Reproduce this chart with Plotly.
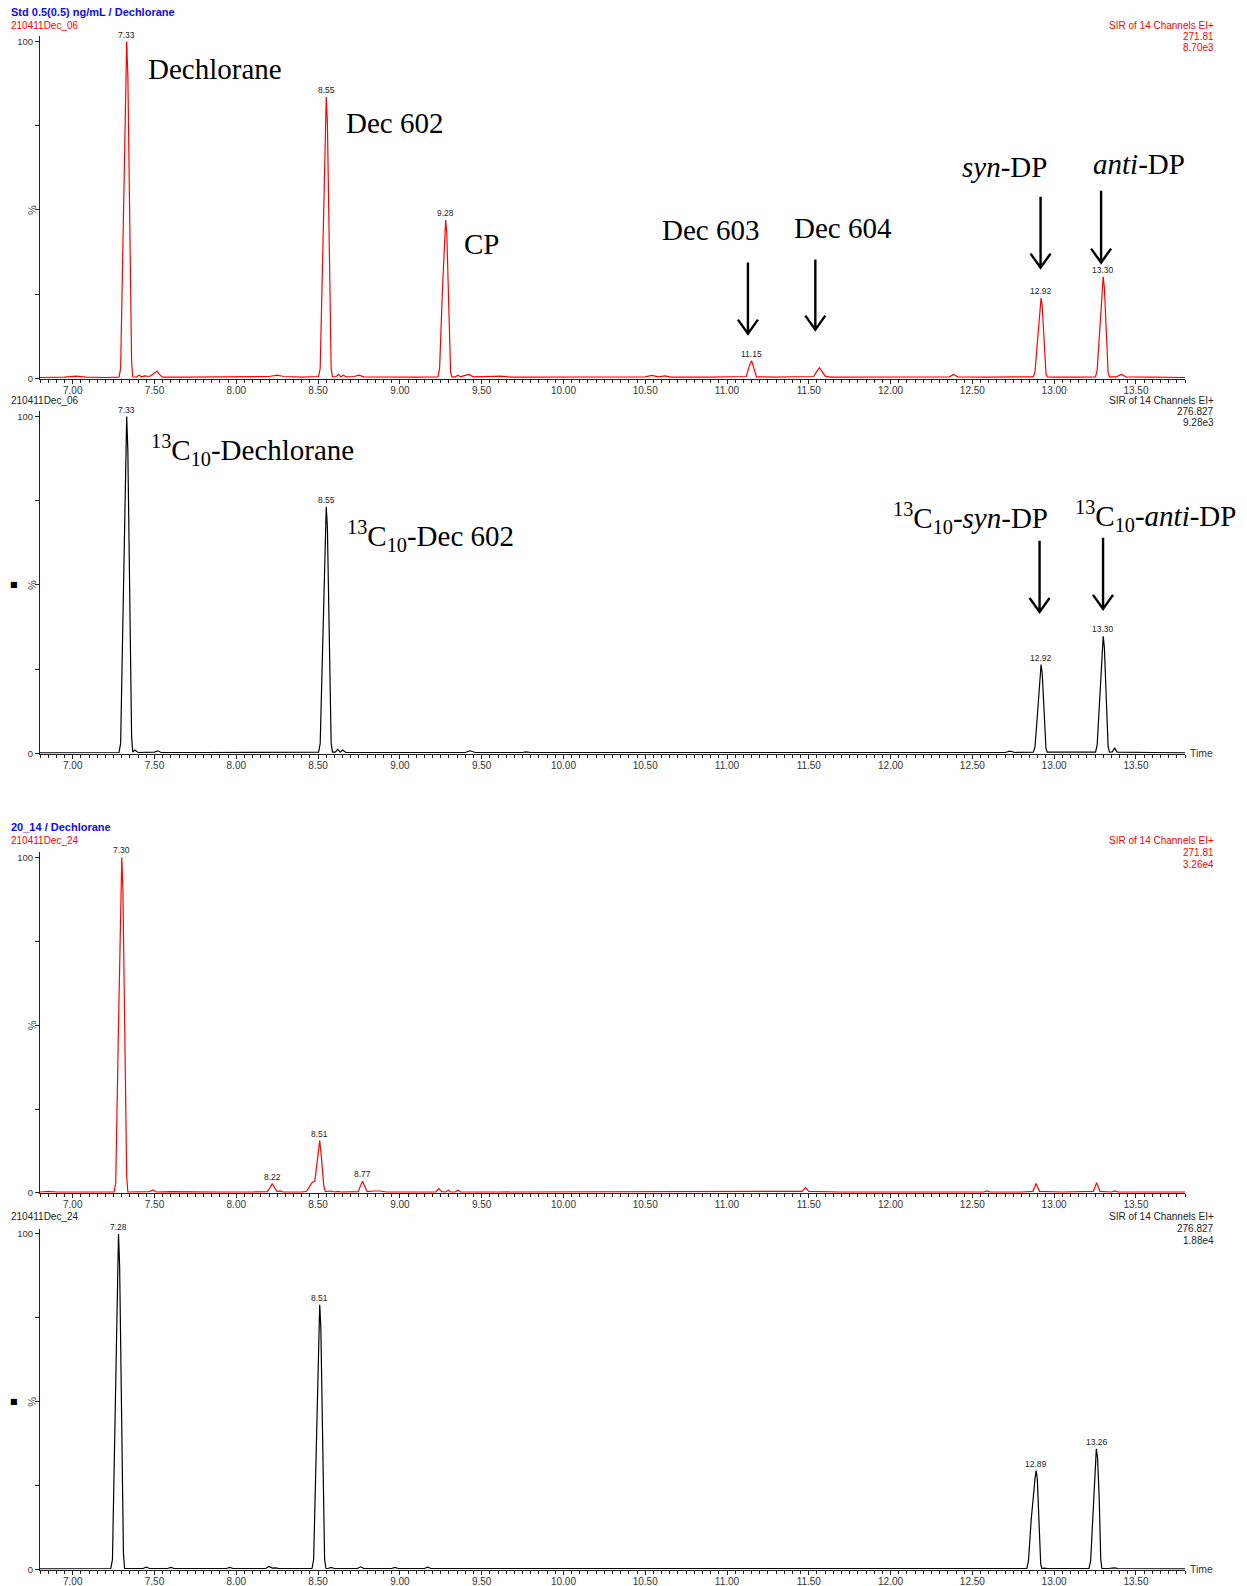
import plotly.graph_objects as go

W, H = 1247, 1586
RED = "#ff0000"
BLACK = "#000000"
BLUE = "#0a0aee"

# ---------------- data: (retention time [min], relative intensity [%]) ----------------
p1_points = [
    (6.80, 0.3), (6.95, 0.4), (7.02, 0.7), (7.08, 0.4), (7.20, 0.3),
    (7.283, 0.4), (7.293, 3), (7.31, 50), (7.323, 90), (7.33, 100), (7.337, 90), (7.35, 40), (7.36, 5), (7.367, 0.5),
    (7.39, 0.4), (7.405, 1.0), (7.42, 0.5), (7.44, 0.8), (7.47, 0.6), (7.50, 1.6), (7.515, 2.2), (7.53, 1.2),
    (7.55, 0.4), (7.70, 0.4), (7.90, 0.5), (8.05, 0.4), (8.20, 0.6), (8.25, 1.0), (8.29, 0.6), (8.40, 0.4),
    (8.503, 0.6), (8.513, 3), (8.53, 42), (8.543, 76), (8.55, 83.5), (8.557, 76), (8.57, 35), (8.58, 3), (8.588, 0.5),
    (8.61, 0.6), (8.625, 1.2), (8.64, 0.5), (8.655, 1.0), (8.67, 0.5), (8.72, 0.6), (8.75, 1.0), (8.78, 0.5),
    (8.90, 0.4), (9.10, 0.4),
    (9.233, 0.5), (9.243, 3), (9.26, 26), (9.273, 43), (9.28, 47), (9.287, 43), (9.30, 19), (9.31, 2), (9.318, 0.5),
    (9.34, 0.5), (9.355, 1.0), (9.37, 0.5), (9.39, 0.8), (9.42, 1.2), (9.45, 0.5), (9.55, 0.5), (9.62, 0.7),
    (9.68, 0.4), (9.90, 0.4), (10.20, 0.4), (10.50, 0.5), (10.54, 0.9), (10.58, 0.5), (10.62, 0.8), (10.66, 0.4),
    (10.90, 0.4), (11.05, 0.4),
    (11.118, 0.6), (11.135, 3.5), (11.15, 5.3), (11.165, 3), (11.18, 0.5),
    (11.30, 0.4), (11.45, 0.5), (11.53, 0.6), (11.55, 2.2), (11.565, 3.2), (11.58, 2.2), (11.60, 0.7), (11.63, 0.4),
    (11.80, 0.4), (12.00, 0.5), (12.20, 0.4), (12.36, 0.5), (12.385, 1.2), (12.41, 0.5), (12.60, 0.4), (12.75, 0.5),
    (12.873, 0.5), (12.883, 2), (12.90, 12), (12.913, 21.5), (12.92, 23.9), (12.927, 21.5), (12.94, 10), (12.95, 1.5), (12.958, 0.5),
    (13.00, 0.4), (13.15, 0.4),
    (13.253, 0.5), (13.263, 2.5), (13.28, 15), (13.293, 27), (13.30, 30.2), (13.307, 27), (13.32, 12), (13.33, 1.8), (13.338, 0.5),
    (13.38, 0.5), (13.41, 1.2), (13.44, 0.5), (13.60, 0.4), (13.80, 0.3),
]

p2_points = [
    (6.80, 0.2), (7.00, 0.3),
    (7.283, 0.3), (7.293, 3), (7.31, 50), (7.323, 90), (7.33, 100), (7.337, 90), (7.35, 40), (7.36, 5), (7.367, 0.4),
    (7.38, 1.0), (7.40, 0.3), (7.50, 0.4), (7.52, 0.8), (7.54, 0.3), (7.80, 0.3), (8.20, 0.3), (8.25, 0.5), (8.30, 0.3),
    (8.503, 0.4), (8.513, 3), (8.53, 37), (8.543, 67), (8.55, 73.2), (8.557, 67), (8.57, 31), (8.58, 3), (8.588, 0.4),
    (8.605, 0.4), (8.62, 1.2), (8.635, 0.4), (8.65, 1.0), (8.67, 0.3), (9.00, 0.3), (9.40, 0.3), (9.43, 0.8), (9.46, 0.3),
    (9.75, 0.3), (9.77, 0.5), (9.80, 0.3), (10.50, 0.3), (11.50, 0.3), (12.00, 0.3), (12.70, 0.3), (12.73, 0.7), (12.76, 0.3),
    (12.873, 0.4), (12.883, 2), (12.90, 13), (12.913, 23.8), (12.92, 26.4), (12.927, 23.8), (12.94, 11), (12.95, 1.5), (12.958, 0.4),
    (13.253, 0.4), (13.263, 2.5), (13.28, 17), (13.293, 31.5), (13.30, 34.8), (13.307, 31.5), (13.32, 14), (13.33, 2), (13.338, 0.4),
    (13.355, 0.5), (13.37, 1.6), (13.385, 0.4), (13.60, 0.3), (13.80, 0.2),
]

p3_points = [
    (6.80, 0.3), (6.85, 0.5), (6.90, 0.3), (7.05, 0.4), (7.15, 0.3),
    (7.253, 0.3), (7.263, 3), (7.28, 50), (7.293, 90), (7.30, 100), (7.307, 90), (7.32, 40), (7.33, 5), (7.337, 0.3),
    (7.40, 0.3), (7.47, 0.4), (7.49, 0.9), (7.51, 0.3), (7.60, 0.4), (7.70, 0.3), (7.90, 0.3), (8.10, 0.3),
    (8.19, 0.4), (8.205, 1.5), (8.22, 2.8), (8.235, 1.5), (8.25, 0.4), (8.27, 0.6), (8.285, 0.3), (8.40, 0.3),
    (8.43, 0.5), (8.455, 2.5), (8.465, 3.2), (8.48, 3.5), (8.495, 10), (8.51, 15.6), (8.52, 11), (8.535, 2), (8.545, 0.4),
    (8.58, 0.6), (8.60, 0.3), (8.62, 0.5), (8.64, 0.3),
    (8.745, 0.4), (8.76, 2.2), (8.772, 3.5), (8.785, 2), (8.80, 0.4), (8.84, 0.6), (8.88, 0.6), (8.92, 0.3),
    (9.00, 0.3), (9.10, 0.5), (9.15, 0.3),
    (9.22, 0.3), (9.238, 1.3), (9.255, 0.4), (9.28, 0.3), (9.297, 0.8), (9.31, 0.3), (9.338, 0.3), (9.354, 0.8), (9.37, 0.3),
    (9.60, 0.3), (10.00, 0.3), (10.50, 0.3), (11.00, 0.3), (11.40, 0.3),
    (11.46, 0.5), (11.48, 1.6), (11.50, 0.5), (11.70, 0.3), (12.00, 0.3), (12.30, 0.3),
    (12.57, 0.3), (12.59, 0.6), (12.61, 0.3), (12.80, 0.3),
    (12.87, 0.5), (12.89, 2.8), (12.91, 0.5), (13.05, 0.3),
    (13.24, 0.5), (13.26, 3.1), (13.28, 0.5), (13.35, 0.3), (13.37, 0.6), (13.39, 0.3), (13.60, 0.3), (13.80, 0.3),
]

p4_points = [
    (6.80, 0.2), (7.00, 0.3), (7.15, 0.2),
    (7.233, 0.3), (7.243, 3), (7.26, 50), (7.273, 90), (7.28, 100), (7.287, 90), (7.30, 40), (7.31, 5), (7.317, 0.3),
    (7.36, 0.3), (7.38, 0.5), (7.40, 0.3), (7.43, 0.3), (7.45, 0.7), (7.47, 0.3), (7.58, 0.3), (7.60, 0.6), (7.62, 0.3),
    (7.94, 0.3), (7.96, 0.6), (7.98, 0.3), (8.18, 0.3), (8.20, 0.9), (8.22, 0.4), (8.24, 0.5), (8.26, 0.3),
    (8.463, 0.3), (8.473, 3), (8.49, 40), (8.503, 72), (8.51, 78.9), (8.517, 72), (8.53, 33), (8.54, 3), (8.548, 0.3),
    (8.56, 0.3), (8.58, 0.6), (8.60, 0.3), (8.74, 0.3), (8.76, 0.8), (8.78, 0.3), (8.95, 0.3), (8.97, 0.6), (8.99, 0.3),
    (9.15, 0.3), (9.17, 0.7), (9.19, 0.3), (9.26, 0.3), (9.28, 0.4), (9.30, 0.3),
    (9.80, 0.3), (10.30, 0.3), (10.50, 0.4), (10.70, 0.3), (11.50, 0.3), (12.30, 0.3), (12.32, 0.5), (12.34, 0.3),
    (12.833, 0.3), (12.843, 2.5), (12.86, 15), (12.883, 27), (12.89, 29.5), (12.897, 27), (12.91, 12), (12.918, 1.5), (12.925, 0.3),
    (12.94, 0.4), (12.96, 0.3),
    (13.213, 0.3), (13.223, 2.5), (13.24, 18), (13.252, 33), (13.258, 36), (13.265, 33.5), (13.275, 22), (13.285, 3), (13.292, 0.3),
    (13.33, 0.3), (13.35, 0.5), (13.37, 0.5), (13.39, 0.3), (13.60, 0.3), (13.80, 0.2),
]

# peak labels (retention time text and apex intensity)
p1_label_rt = [7.33, 8.55, 9.28, 11.15, 12.92, 13.30]
p1_label_h = [100, 83.5, 47, 5.3, 23.9, 30.2]
p2_label_rt = [7.33, 8.55, 12.92, 13.30]
p2_label_h = [100, 73.2, 26.4, 34.8]
p3_label_rt = [7.30, 8.22, 8.51, 8.77]
p3_label_h = [100, 2.8, 15.6, 3.5]
p4_label_rt = [7.28, 8.51, 12.89, 13.26]
p4_label_h = [100, 78.9, 29.5, 36.0]

# header texts
p1_title = "Std 0.5(0.5) ng/mL / Dechlorane"
p3_title = "20_14 / Dechlorane"
p1_file = "210411Dec_06"
p3_file = "210411Dec_24"
p1_info = ["SIR of 14 Channels EI+", "271.81", "8.70e3"]
p2_info = ["SIR of 14 Channels EI+", "276.827", "9.28e3"]
p3_info = ["SIR of 14 Channels EI+", "271.81", "3.26e4"]
p4_info = ["SIR of 14 Channels EI+", "276.827", "1.88e4"]

x_tick_vals = [7.00, 7.50, 8.00, 8.50, 9.00, 9.50, 10.00, 10.50, 11.00, 11.50, 12.00, 12.50, 13.00, 13.50]

# ---------------- layout helpers ----------------
X_LEFT, X_RIGHT = 40, 1185
X_RANGE = [6.8, 13.8]
Y_TOP = 101.5


def px_x(x):
    return x / W


def px_y(y):
    return 1 - y / H


panels = [
    dict(pts=p1_points, color=RED, y100=41.5, y0=378.5, lrt=p1_label_rt, lh=p1_label_h, time=False, square=False),
    dict(pts=p2_points, color=BLACK, y100=416.5, y0=753.5, lrt=p2_label_rt, lh=p2_label_h, time=True, square=True),
    dict(pts=p3_points, color=RED, y100=857.5, y0=1193.0, lrt=p3_label_rt, lh=p3_label_h, time=False, square=False),
    dict(pts=p4_points, color=BLACK, y100=1234.0, y0=1569.5, lrt=p4_label_rt, lh=p4_label_h, time=True, square=True),
]

fig = go.Figure()
annotations = []
shapes = []

tick_font = dict(family="Liberation Sans, Arial", size=10, color="#333333")

for i, p in enumerate(panels):
    n = "" if i == 0 else str(i + 1)
    xa, ya = "x" + n, "y" + n
    fig.add_trace(go.Scatter(
        x=[q[0] for q in p["pts"]], y=[q[1] for q in p["pts"]],
        mode="lines", line=dict(color=p["color"], width=1.2),
        xaxis=xa, yaxis=ya, showlegend=False, hoverinfo="skip",
    ))
    s = (p["y0"] - p["y100"]) / 100.0
    top_px = p["y0"] - Y_TOP * s
    dom = [px_y(p["y0"]), px_y(top_px)]
    fig.layout["xaxis" + n] = dict(
        domain=[px_x(X_LEFT), px_x(X_RIGHT)], range=X_RANGE, anchor=ya,
        showline=True, linecolor="#222222", linewidth=1, showgrid=False, zeroline=False,
        ticks="outside", ticklen=4, tickcolor="#222222", tickwidth=1,
        tickmode="array", tickvals=x_tick_vals, ticktext=["%.2f" % v for v in x_tick_vals],
        ticklabelstandoff=-2,
        tickfont=tick_font, automargin=False, fixedrange=True,
        minor=dict(tickmode="linear", tick0=6.8, dtick=0.05, ticks="outside", ticklen=3,
                   tickcolor="#222222", tickwidth=1, showgrid=False),
    )
    fig.layout["yaxis" + n] = dict(
        domain=dom, range=[0, Y_TOP], anchor=xa,
        showline=True, linecolor="#222222", linewidth=1, showgrid=False, zeroline=False,
        ticks="outside", ticklen=4, tickcolor="#222222", tickwidth=1,
        tickmode="array", tickvals=[0, 100], ticktext=["0", "100"],
        tickfont=dict(family="Liberation Sans, Arial", size=9.5, color="#333333"),
        automargin=False, fixedrange=True,
        minor=dict(tickmode="linear", tick0=0, dtick=25, ticks="outside", ticklen=4,
                   tickcolor="#222222", tickwidth=1, showgrid=False),
    )
    # % label
    annotations.append(dict(text="%", x=px_x(32), xref="paper", xanchor="center", y=50, yref=ya,
                            yanchor="middle", showarrow=False, textangle=-90,
                            font=dict(family="Liberation Sans, Arial", size=11, color="#444444")))
    if p["square"]:
        annotations.append(dict(text="■", x=px_x(14), xref="paper", xanchor="center", y=50, yref=ya,
                                yanchor="middle", showarrow=False,
                                font=dict(family="DejaVu Sans", size=8, color="#000000")))
    if p["time"]:
        annotations.append(dict(text="Time", x=px_x(1188), xref="paper", xanchor="left", y=0, yref=ya,
                                yanchor="middle", showarrow=False,
                                font=dict(family="Liberation Sans, Arial", size=10.5, color="#333333")))
    for rt, h in zip(p["lrt"], p["lh"]):
        annotations.append(dict(text="%.2f" % rt, x=rt, xref=xa, y=h, yref=ya, yanchor="bottom",
                                showarrow=False, yshift=0,
                                font=dict(family="Liberation Sans, Arial", size=8.5, color="#222222")))

# headers
hdr_blue = dict(family="Liberation Sans, Arial", size=11, color=BLUE)
hdr_red = dict(family="Liberation Sans, Arial", size=10, color=RED)
hdr_black = dict(family="Liberation Sans, Arial", size=10, color="#222222")


def left_text(txt, y, font, bold=False):
    annotations.append(dict(text=("<b>%s</b>" % txt) if bold else txt, x=px_x(9), xref="paper", xanchor="left",
                            y=px_y(y), yref="paper", yanchor="middle", showarrow=False, font=font))


def right_lines(lines, ys, font):
    for t, y in zip(lines, ys):
        annotations.append(dict(text=t, x=px_x(1216), xref="paper", xanchor="right",
                                y=px_y(y), yref="paper", yanchor="middle", showarrow=False, font=font))


left_text(p1_title, 12.1, hdr_blue, bold=True)
left_text(p1_file, 25.3, hdr_red)
right_lines(p1_info, [25.3, 36.6, 47.8], hdr_red)
left_text(p1_file, 400.5, hdr_black)
right_lines(p2_info, [400.5, 411.5, 422.5], hdr_black)
left_text(p3_title, 827.4, hdr_blue, bold=True)
left_text(p3_file, 840.6, hdr_red)
right_lines(p3_info, [840.6, 852.3, 864.0], hdr_red)
left_text(p3_file, 1216.8, hdr_black)
right_lines(p4_info, [1216.8, 1228.8, 1240.5], hdr_black)

# compound names
serif = dict(family="Liberation Serif, Times New Roman", size=29, color="#000000")
names = [
    ("Dechlorane", 7.448, 91.9, "left", "y"),
    ("Dec 602", 8.66, 75.7, "left", "y"),
    ("CP", 9.378, 39.8, "left", "y"),
    ("Dec 603", 10.899, 44.0, "center", "y"),
    ("Dec 604", 11.71, 44.6, "center", "y"),
    ("<i>syn</i>-DP", 12.699, 62.8, "center", "y"),
    ("<i>anti</i>-DP", 13.521, 63.7, "center", "y"),
    ("<sup>13</sup>C<sub>10</sub>-Dechlorane", 7.468, 90.0, "left", "y2"),
    ("<sup>13</sup>C<sub>10</sub>-Dec 602", 8.667, 64.5, "left", "y2"),
    ("<sup>13</sup>C<sub>10</sub>-<i>syn</i>-DP", 12.489, 69.9, "center", "y2"),
    ("<sup>13</sup>C<sub>10</sub>-<i>anti</i>-DP", 13.62, 70.5, "center", "y2"),
]
for t, x, y, anc, yr in names:
    xr = "x" if yr == "y" else "x2"
    annotations.append(dict(text=t, x=x, xref=xr, xanchor=anc, y=y, yref=yr, yanchor="middle",
                            showarrow=False, font=serif))

# arrows (shaft + open V head)
arrows = [
    (11.128, 34.4, 13.3, "x", "y"),
    (11.54, 35.3, 14.5, "x", "y"),
    (12.917, 53.9, 32.9, "x", "y"),
    (13.287, 55.7, 34.4, "x", "y"),
    (12.911, 63.1, 42.0, "x2", "y2"),
    (13.299, 64.0, 42.9, "x2", "y2"),
]
dx = 10 / ((X_RIGHT - X_LEFT) / (X_RANGE[1] - X_RANGE[0]))
dy = 14 / 3.37
for x, y1, y2, xr, yr in arrows:
    path = "M %f,%f L %f,%f M %f,%f L %f,%f L %f,%f" % (x, y1, x, y2, x - dx, y2 + dy, x, y2, x + dx, y2 + dy)
    shapes.append(dict(type="path", path=path, xref=xr, yref=yr, line=dict(color="#000000", width=2.4)))

fig.update_layout(
    width=W, height=H, autosize=False,
    margin=dict(l=0, r=0, t=0, b=0),
    paper_bgcolor="white", plot_bgcolor="white",
    showlegend=False, annotations=annotations, shapes=shapes,
)

fig.write_html("out.html", config={"displayModeBar": False},
               post_script="document.body.style.margin='0';document.body.style.overflow='hidden';")
